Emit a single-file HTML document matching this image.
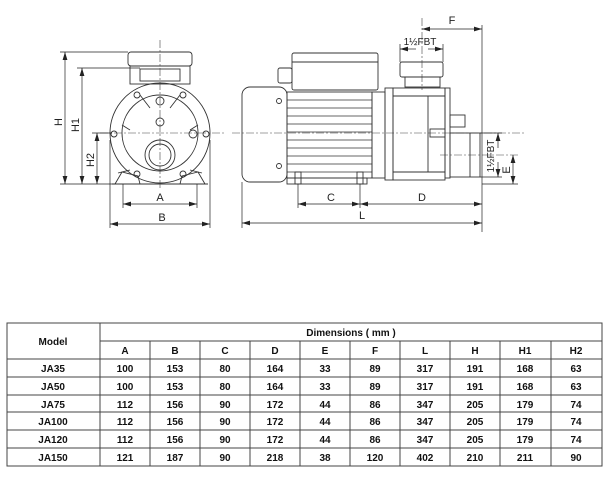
<!DOCTYPE html>
<html><head><meta charset="utf-8"><style>
html,body{margin:0;padding:0;background:#fff;}
body{width:612px;height:478px;position:relative;overflow:hidden;font-family:"Liberation Sans",Arial,sans-serif;}
svg{position:absolute;left:0;top:0;}
</style></head><body>
<svg width="612" height="478" viewBox="0 0 612 478" xmlns="http://www.w3.org/2000/svg">
<defs>
<marker id="a" viewBox="0 0 10 6" refX="10" refY="3" markerWidth="8" markerHeight="5" orient="auto-start-reverse" markerUnits="userSpaceOnUse"><path d="M0,0 L10,3 L0,6 z" fill="#222"/></marker>
</defs>
<g fill="none" stroke="#333" stroke-width="0.9">
<!-- FRONT VIEW -->
<rect x="128" y="52" width="64" height="14" rx="3"/>
<rect x="130" y="66" width="60" height="18"/>
<rect x="140" y="69" width="40" height="12"/>
<circle cx="160" cy="133" r="50"/>
<circle cx="160" cy="133" r="38"/>
<circle cx="160" cy="155" r="15"/>
<circle cx="160" cy="155" r="11"/>
<path d="M118,173 L130,170 M202,173 L190,170"/>
<path d="M115,184 L122,172 L138,176 L140,184 Z M205,184 L198,172 L182,176 L180,184 Z"/>
<line x1="112" y1="184" x2="208" y2="184"/>
<circle cx="137" cy="95" r="3"/><circle cx="183" cy="95" r="3"/>
<circle cx="160" cy="101" r="4"/><circle cx="160" cy="122" r="4"/>
<circle cx="114" cy="134" r="3"/><circle cx="206" cy="134" r="3"/><circle cx="193" cy="134" r="4"/>
<circle cx="137" cy="174" r="3"/><circle cx="183" cy="174" r="3"/>
<path d="M150,108 L140,95 M170,108 L180,95 M130,130 L122,125 M190,130 L198,125"/>
</g>
<g stroke="#444" stroke-width="0.6" stroke-dasharray="8,2,2,2" fill="none">
<line x1="100" y1="133" x2="225" y2="133"/>
<line x1="160" y1="40" x2="160" y2="190"/>
<line x1="232" y1="133" x2="525" y2="133"/>
<line x1="422" y1="18" x2="422" y2="90"/>
<line x1="440" y1="155" x2="518" y2="155"/>
</g>
<!-- front dims -->
<g stroke="#222" stroke-width="0.7" fill="none">
<line x1="60" y1="52" x2="128" y2="52"/><line x1="77" y1="68" x2="140" y2="68"/>
<line x1="92" y1="133" x2="112" y2="133"/><line x1="60" y1="184" x2="115" y2="184"/>
<line x1="65" y1="52" x2="65" y2="184" marker-start="url(#a)" marker-end="url(#a)"/>
<line x1="82" y1="68" x2="82" y2="184" marker-start="url(#a)" marker-end="url(#a)"/>
<line x1="97" y1="133" x2="97" y2="184" marker-start="url(#a)" marker-end="url(#a)"/>
<line x1="123" y1="184" x2="123" y2="208"/><line x1="197" y1="184" x2="197" y2="208"/>
<line x1="110" y1="140" x2="110" y2="228"/><line x1="210" y1="140" x2="210" y2="228"/>
<line x1="123" y1="204" x2="197" y2="204" marker-start="url(#a)" marker-end="url(#a)"/>
<line x1="110" y1="224" x2="210" y2="224" marker-start="url(#a)" marker-end="url(#a)"/>
</g>
<g font-size="11" fill="#222" text-anchor="middle">
<text x="160" y="201">A</text><text x="162" y="221">B</text>
<text transform="translate(62,122) rotate(-90)">H</text>
<text transform="translate(79,125) rotate(-90)">H1</text>
<text transform="translate(94,160) rotate(-90)">H2</text>
</g>
<!-- SIDE VIEW -->
<g fill="none" stroke="#333" stroke-width="0.9">
<rect x="242" y="87" width="45" height="95" rx="8"/>
<circle cx="279" cy="101" r="2.5"/><circle cx="279" cy="166" r="2.5"/>
<rect x="287" y="92" width="85" height="86"/>
<g stroke-width="0.7">
<line x1="287" y1="100" x2="372" y2="100"/><line x1="287" y1="108" x2="372" y2="108"/>
<line x1="287" y1="116" x2="372" y2="116"/><line x1="287" y1="124" x2="372" y2="124"/>
<line x1="287" y1="132" x2="372" y2="132"/><line x1="287" y1="140" x2="372" y2="140"/>
<line x1="287" y1="148" x2="372" y2="148"/><line x1="287" y1="156" x2="372" y2="156"/>
<line x1="287" y1="164" x2="372" y2="164"/><line x1="287" y1="172" x2="372" y2="172"/>
</g>
<rect x="292" y="53" width="86" height="37" rx="2"/>
<line x1="292" y1="62" x2="378" y2="62"/>
<rect x="278" y="68" width="14" height="15" rx="2"/>
<rect x="287" y="178" width="80" height="6"/>
<rect x="295" y="172" width="6" height="12"/><rect x="357" y="172" width="6" height="12"/>
<rect x="372" y="92" width="13" height="86"/>
<rect x="385" y="88" width="8" height="92"/>
<rect x="393" y="88" width="52" height="92"/>
<line x1="393" y1="96" x2="445" y2="96"/><line x1="393" y1="172" x2="445" y2="172"/>
<line x1="428" y1="96" x2="428" y2="172"/>
<rect x="445" y="88" width="5" height="90"/>
<rect x="400" y="62" width="43" height="15" rx="2"/>
<rect x="405" y="77" width="35" height="10"/>
<rect x="450" y="133" width="30" height="44"/>
<line x1="470" y1="133" x2="470" y2="177"/>
<rect x="450" y="115" width="15" height="12"/>
<rect x="430" y="129" width="15" height="8"/>
</g>
<g stroke="#222" stroke-width="0.7" fill="none">
<line x1="242" y1="182" x2="242" y2="228"/>
<line x1="482" y1="25" x2="482" y2="232"/>
<line x1="298" y1="184" x2="298" y2="208"/><line x1="360" y1="184" x2="360" y2="208"/>
<line x1="422" y1="29" x2="482" y2="29" marker-start="url(#a)" marker-end="url(#a)"/>
<line x1="400" y1="44" x2="400" y2="62"/><line x1="443" y1="44" x2="443" y2="62"/>
<line x1="400" y1="49" x2="416" y2="49" marker-start="url(#a)"/>
<line x1="428" y1="49" x2="443" y2="49" marker-end="url(#a)"/>
<line x1="298" y1="204" x2="360" y2="204" marker-start="url(#a)" marker-end="url(#a)"/>
<line x1="360" y1="204" x2="482" y2="204" marker-start="url(#a)" marker-end="url(#a)"/>
<line x1="242" y1="223" x2="482" y2="223" marker-start="url(#a)" marker-end="url(#a)"/>
<line x1="480" y1="177" x2="502" y2="177"/><line x1="480" y1="133" x2="502" y2="133"/>
<line x1="498" y1="133" x2="498" y2="148" marker-start="url(#a)"/>
<line x1="498" y1="162" x2="498" y2="177" marker-end="url(#a)"/>
<line x1="482" y1="184" x2="518" y2="184"/>
<line x1="513" y1="155" x2="513" y2="184" marker-start="url(#a)" marker-end="url(#a)"/>
</g>
<g font-size="11" fill="#222" text-anchor="middle">
<text x="452" y="24">F</text>
<text x="420" y="45" font-size="10">1½FBT</text>
<text x="331" y="201">C</text><text x="422" y="201">D</text><text x="362" y="219">L</text>
<text transform="translate(494,156) rotate(-90)" font-size="10">1½FBT</text>
<text transform="translate(510,170) rotate(-90)">E</text>
</g>
<!-- TABLE -->
<g stroke="#444" stroke-width="1" fill="none">
<rect x="7" y="323" width="595" height="143"/>
<line x1="100" y1="341" x2="602" y2="341"/>
<line x1="7" y1="359" x2="602" y2="359"/>
<line x1="7" y1="377" x2="602" y2="377"/>
<line x1="7" y1="395" x2="602" y2="395"/>
<line x1="7" y1="412" x2="602" y2="412"/>
<line x1="7" y1="430" x2="602" y2="430"/>
<line x1="7" y1="448" x2="602" y2="448"/>
<line x1="100" y1="323" x2="100" y2="466"/>
<line x1="150" y1="341" x2="150" y2="466"/><line x1="200" y1="341" x2="200" y2="466"/>
<line x1="250" y1="341" x2="250" y2="466"/><line x1="300" y1="341" x2="300" y2="466"/>
<line x1="350" y1="341" x2="350" y2="466"/><line x1="400" y1="341" x2="400" y2="466"/>
<line x1="450" y1="341" x2="450" y2="466"/><line x1="500" y1="341" x2="500" y2="466"/>
<line x1="551" y1="341" x2="551" y2="466"/>
</g>
<g font-size="10" font-weight="bold" fill="#111" text-anchor="middle">
<text x="53" y="345">Model</text>
<text x="351" y="336">Dimensions ( mm )</text>
<text x="125" y="354">A</text><text x="175" y="354">B</text><text x="225" y="354">C</text><text x="275" y="354">D</text><text x="325" y="354">E</text><text x="375" y="354">F</text><text x="425" y="354">L</text><text x="475" y="354">H</text><text x="525" y="354">H1</text><text x="576" y="354">H2</text>
<text x="53" y="372">JA35</text><text x="125" y="372">100</text><text x="175" y="372">153</text><text x="225" y="372">80</text><text x="275" y="372">164</text><text x="325" y="372">33</text><text x="375" y="372">89</text><text x="425" y="372">317</text><text x="475" y="372">191</text><text x="525" y="372">168</text><text x="576" y="372">63</text>
<text x="53" y="390">JA50</text><text x="125" y="390">100</text><text x="175" y="390">153</text><text x="225" y="390">80</text><text x="275" y="390">164</text><text x="325" y="390">33</text><text x="375" y="390">89</text><text x="425" y="390">317</text><text x="475" y="390">191</text><text x="525" y="390">168</text><text x="576" y="390">63</text>
<text x="53" y="408">JA75</text><text x="125" y="408">112</text><text x="175" y="408">156</text><text x="225" y="408">90</text><text x="275" y="408">172</text><text x="325" y="408">44</text><text x="375" y="408">86</text><text x="425" y="408">347</text><text x="475" y="408">205</text><text x="525" y="408">179</text><text x="576" y="408">74</text>
<text x="53" y="425">JA100</text><text x="125" y="425">112</text><text x="175" y="425">156</text><text x="225" y="425">90</text><text x="275" y="425">172</text><text x="325" y="425">44</text><text x="375" y="425">86</text><text x="425" y="425">347</text><text x="475" y="425">205</text><text x="525" y="425">179</text><text x="576" y="425">74</text>
<text x="53" y="443">JA120</text><text x="125" y="443">112</text><text x="175" y="443">156</text><text x="225" y="443">90</text><text x="275" y="443">172</text><text x="325" y="443">44</text><text x="375" y="443">86</text><text x="425" y="443">347</text><text x="475" y="443">205</text><text x="525" y="443">179</text><text x="576" y="443">74</text>
<text x="53" y="461">JA150</text><text x="125" y="461">121</text><text x="175" y="461">187</text><text x="225" y="461">90</text><text x="275" y="461">218</text><text x="325" y="461">38</text><text x="375" y="461">120</text><text x="425" y="461">402</text><text x="475" y="461">210</text><text x="525" y="461">211</text><text x="576" y="461">90</text>
</g>
</svg>
</body></html>
